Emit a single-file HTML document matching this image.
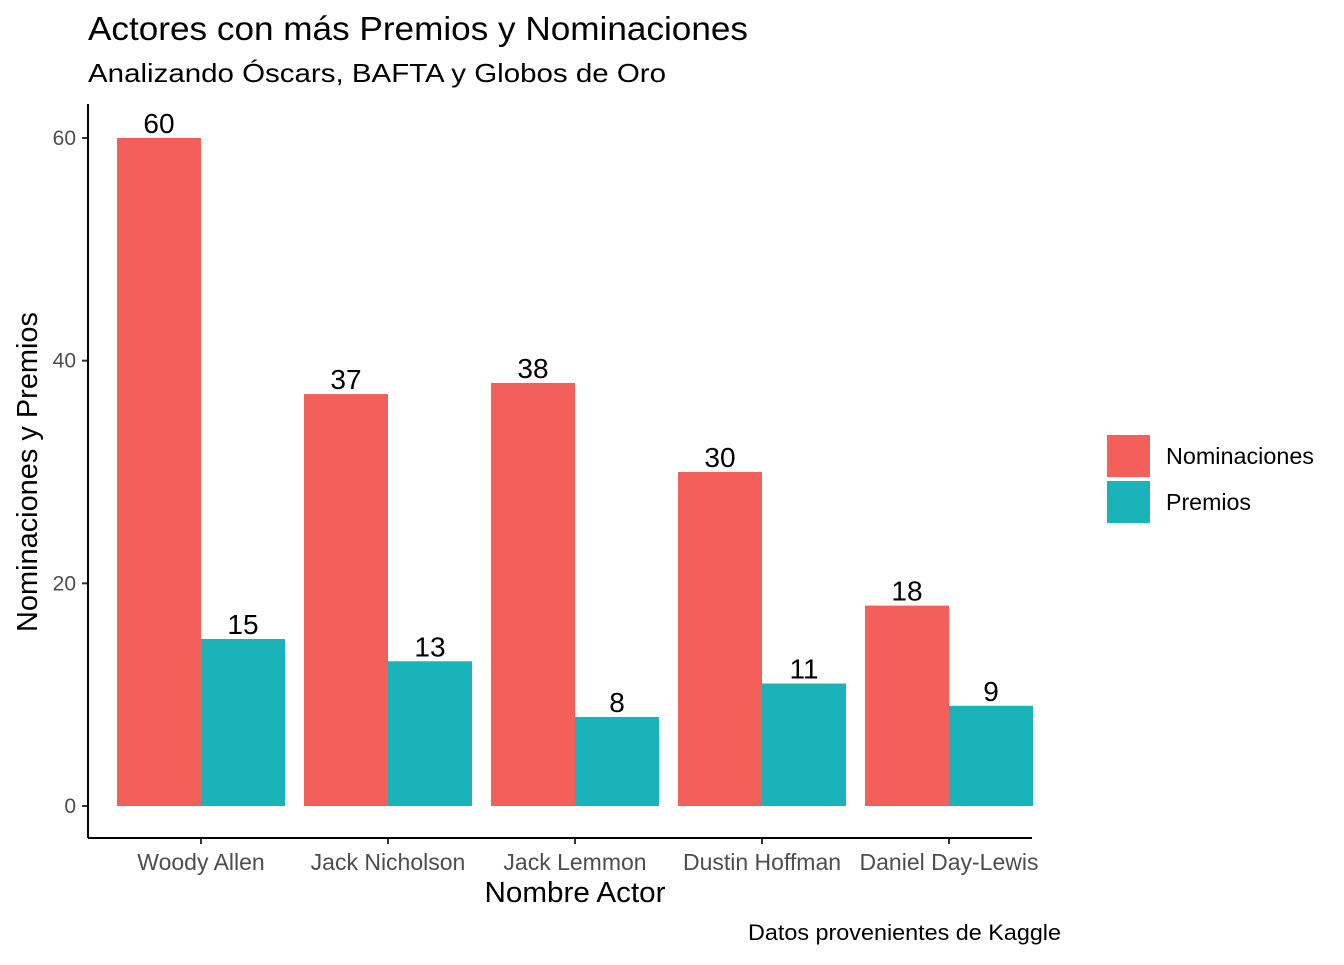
<!DOCTYPE html>
<html><head><meta charset="utf-8"><style>
body{margin:0;background:#fff}
svg{font-family:"Liberation Sans",Arial,sans-serif}
</style></head><body>
<svg id="chart" width="1344" height="960" xmlns="http://www.w3.org/2000/svg">
<rect width="1344" height="960" fill="#fff"/>
<text x="88" y="40" font-size="33" textLength="660" lengthAdjust="spacingAndGlyphs" fill="#000">Actores con más Premios y Nominaciones</text>
<text x="88" y="82" font-size="26" textLength="578" lengthAdjust="spacingAndGlyphs" fill="#000">Analizando Óscars, BAFTA y Globos de Oro</text>
<g id="bars"></g>
<g id="yaxis"></g>
<g id="xaxis"></g>
<line x1="88" y1="104" x2="88" y2="838" stroke="#000" stroke-width="2"/>
<line x1="88" y1="838" x2="1032" y2="838" stroke="#000" stroke-width="2"/>
<text x="575" y="902" font-size="29" text-anchor="middle" textLength="181" lengthAdjust="spacingAndGlyphs">Nombre Actor</text>
<text transform="translate(37,472) rotate(-90)" font-size="29" text-anchor="middle" textLength="320" lengthAdjust="spacingAndGlyphs">Nominaciones y Premios</text>
<text x="1061" y="940" font-size="22" text-anchor="end" textLength="313" lengthAdjust="spacingAndGlyphs">Datos provenientes de Kaggle</text>
<g>
<rect x="1107" y="435" width="43" height="42" fill="#F3605B"/>
<text x="1166" y="464" font-size="23" textLength="148" lengthAdjust="spacingAndGlyphs">Nominaciones</text>
<rect x="1107" y="481" width="43" height="42" fill="#1AB3B9"/>
<text x="1166" y="510" font-size="23" textLength="85" lengthAdjust="spacingAndGlyphs">Premios</text>
</g>
</svg>
<script>
const categories=["Woody Allen","Jack Nicholson","Jack Lemmon","Dustin Hoffman","Daniel Day-Lewis"];
const nominaciones=[60,37,38,30,18];
const premios=[15,13,8,11,9];
const yTicks=[0,20,40,60];
const NS="http://www.w3.org/2000/svg";
const y=v=>806-v*(668/60);
const xc=i=>201+i*187;
const bw=84;
function mk(tag,attrs,parent,text){const e=document.createElementNS(NS,tag);for(const k in attrs)e.setAttribute(k,attrs[k]);if(text!==undefined)e.textContent=text;parent.appendChild(e);return e;}
const bars=document.getElementById('bars'),ya=document.getElementById('yaxis'),xa=document.getElementById('xaxis');
const series=[[nominaciones,"#F3605B","nominaciones",-bw],[premios,"#1AB3B9","premios",0]];
categories.forEach((c,i)=>{
 series.forEach(s=>{
  const v=s[0][i];
  const r=mk('rect',{x:xc(i)+s[3],y:y(v),width:bw,height:y(0)-y(v),fill:s[1]},bars);
  
  
  const t=mk('text',{x:xc(i)+s[3]+bw/2,y:y(v)-5,'font-size':'28','text-anchor':'middle',fill:'#000'},bars,String(v));
  
  
 });
 const tk=mk('line',{x1:xc(i),x2:xc(i),y1:838,y2:844,stroke:'#333','stroke-width':2},xa);
 
 
 const lb=mk('text',{x:xc(i),y:870,'font-size':'23','text-anchor':'middle',fill:'#4d4d4d'},xa,c);
 
 
});
yTicks.forEach(v=>{
 const tk=mk('line',{x1:82,x2:88,y1:y(v),y2:y(v),stroke:'#333','stroke-width':2},ya);
 
 
 const lb=mk('text',{x:76,y:y(v)+7,'font-size':'21','text-anchor':'end',fill:'#4d4d4d'},ya,String(v));
 
 
});
</script>
</body></html>
